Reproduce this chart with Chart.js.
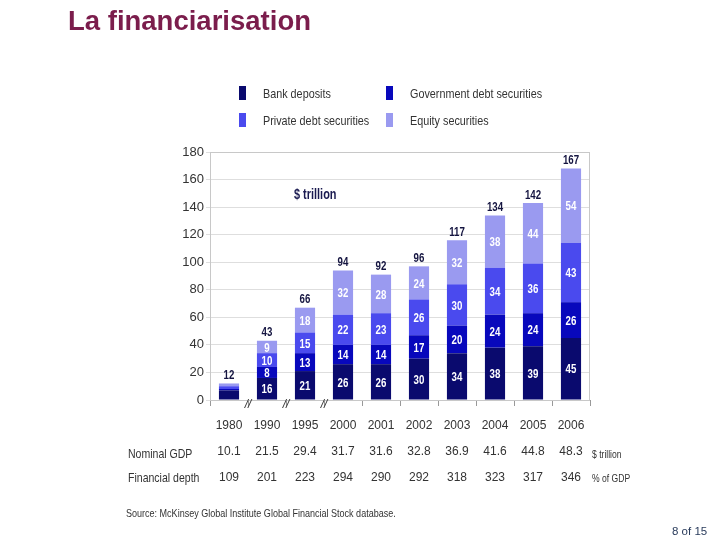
<!DOCTYPE html>
<html>
<head>
<meta charset="utf-8">
<title>La financiarisation</title>
<script src="https://cdn.jsdelivr.net/npm/chart.js@4.4.1/dist/chart.umd.min.js"></script>
<style>
  html, body { margin: 0; padding: 0; background: #fff; }
  #page { position: relative; width: 720px; height: 540px; overflow: hidden; }
  #myChart { position: absolute; left: 0; top: 0; }
  .txt { position: absolute; white-space: nowrap; font-family: "Liberation Sans", Arial, sans-serif; color: #333; line-height: 1; transform-origin: 0 0; }
  #title { left: 68px; top: 7px; font-weight: bold; font-size: 27.5px; color: #7b1d4c; }
  #unit { left: 294px; top: 187px; font-weight: bold; font-size: 14px; color: #1a1a50; transform: scaleX(0.78); }
  .key { position: absolute; width: 7px; height: 14px; }
  .leg { font-size: 13.5px; transform: scaleX(0.8); }
  .row { font-size: 13.5px; transform: scaleX(0.78); }
  .unitcol { font-size: 11px; transform: scaleX(0.78); }
  #source { left: 126px; top: 508px; font-size: 11px; transform: scaleX(0.82); }
  #pageNo { left: 672px; top: 526px; font-size: 11.5px; color: #2a3c5c; }
</style>
</head>
<body>
<div id="page">
  <canvas id="myChart" width="720" height="540"></canvas>
  <div class="txt" id="title">La financiarisation</div>
  <div class="txt" id="unit">$ trillion</div>
  <div class="txt row" style="left:128px; top:447px;">Nominal GDP</div>
  <div class="txt row" style="left:128px; top:471px;">Financial depth</div>
  <div class="txt unitcol" style="left:592px; top:449px;">$ trillion</div>
  <div class="txt unitcol" style="left:592px; top:473px;">% of GDP</div>
  <div class="txt" id="source">Source: McKinsey Global Institute Global Financial Stock database.</div>
  <div class="txt" id="pageNo">8 of 15</div>
</div>
<script>
'use strict';

// ********** DATA **********

let years = ['1980', '1990', '1995', '2000', '2001', '2002', '2003', '2004', '2005', '2006'];

let bankDeposits  = [7, 16, 21, 26, 26, 30, 34, 38, 39, 45];
let govDebt       = [1,  8, 13, 14, 14, 17, 20, 24, 24, 26];
let privateDebt   = [2, 10, 15, 22, 23, 26, 30, 34, 36, 43];
let equity        = [2,  9, 18, 32, 28, 24, 32, 38, 44, 54];

let totals        = [12, 43, 66, 94, 92, 96, 117, 134, 142, 167];

let nominalGdp    = ['10.1', '21.5', '29.4', '31.7', '31.6', '32.8', '36.9', '41.6', '44.8', '48.3'];
let financeDepth  = ['109', '201', '223', '294', '290', '292', '318', '323', '317', '346'];

let yTicks = [0, 20, 40, 60, 80, 100, 120, 140, 160, 180];

let seriesNames  = ['Bank deposits', 'Government debt securities', 'Private debt securities', 'Equity securities'];
let seriesColors = ['#0a0a6e', '#0808bc', '#4a4aee', '#9a9af0'];

// ********** HELPERS **********

const sans = '"Liberation Sans", Arial, sans-serif';

// legend built by hand in a 2 x 2 grid
function buildLegend() {
  let page = document.querySelector('#page');
  for (let i = 0; i < seriesNames.length; i++) {
    let col = i % 2;
    let row = Math.floor(i / 2);
    let left = 239 + col * 147;
    let top = 86 + row * 27;
    let key = document.createElement('div');
    key.className = 'key';
    key.style.left = left + 'px';
    key.style.top = top + 'px';
    key.style.background = seriesColors[i];
    page.appendChild(key);
    let label = document.createElement('div');
    label.className = 'txt leg';
    label.style.left = (left + 24) + 'px';
    label.style.top = (top + 1) + 'px';
    label.textContent = seriesNames[i];
    page.appendChild(label);
  }
}

// narrow text on the canvas
function narrowText(ctx, text, x, y, squeeze) {
  ctx.save();
  ctx.translate(x, y);
  ctx.scale(squeeze, 1);
  ctx.fillText(text, 0, 0);
  ctx.restore();
}

// white numbers inside segments, totals above, box and axis breaks
const barLabels = {
  id: 'barLabels',
  beforeDatasetsDraw(chart) {
    let a = chart.chartArea;
    let ctx = chart.ctx;
    ctx.save();
    ctx.strokeStyle = '#c8c8c8';
    ctx.lineWidth = 1;
    ctx.strokeRect(a.left + 0.5, a.top + 0.5, a.right - a.left - 1, a.bottom - a.top);
    ctx.restore();
  },
  afterDatasetsDraw(chart) {
    let ctx = chart.ctx;
    ctx.save();
    ctx.font = 'bold 13.5px ' + sans;
    ctx.textAlign = 'center';
    ctx.textBaseline = 'middle';
    chart.data.datasets.forEach((ds, i) => {
      let meta = chart.getDatasetMeta(i);
      meta.data.forEach((bar, j) => {
        if (Math.abs(bar.base - bar.y) < 11) return;
        ctx.fillStyle = '#ffffff';
        narrowText(ctx, ds.data[j], bar.x, (bar.y + bar.base) / 2 + 1, 0.72);
      });
    });
    let topMeta = chart.getDatasetMeta(chart.data.datasets.length - 1);
    topMeta.data.forEach((bar, j) => {
      ctx.fillStyle = '#141440';
      narrowText(ctx, totals[j], bar.x, bar.y - 8, 0.72);
    });
    // axis breaks between the early years
    let xs = chart.scales.x;
    ctx.font = 'italic 12px ' + sans;
    ctx.fillStyle = '#333';
    for (let j = 0; j < 3; j++) {
      let x = (xs.getPixelForValue(j) + xs.getPixelForValue(j + 1)) / 2;
      ctx.fillText('//', x, chart.chartArea.bottom + 5);
    }
    ctx.restore();
  }
};

// ********** CHART **********

function drawChart() {
  let data = [bankDeposits, govDebt, privateDebt, equity];
  let datasets = [];
  for (let i = 0; i < data.length; i++) {
    datasets.push({
      label: seriesNames[i],
      data: data[i],
      backgroundColor: seriesColors[i],
      borderWidth: 0,
      barPercentage: 0.53,
      categoryPercentage: 1
    });
  }

  let chartData = {
    type: 'bar',
    data: {
      labels: years.map((y, i) => [y, nominalGdp[i], financeDepth[i]]),
      datasets: datasets
    },
    options: {
      responsive: false,
      animation: false,
      layout: { padding: { left: 150, right: 130, top: 152, bottom: 0 } },
      plugins: { legend: { display: false }, tooltip: { enabled: false } },
      scales: {
        x: {
          stacked: true,
          offset: true,
          grid: { display: true, drawOnChartArea: false, tickLength: 6, color: '#999' },
          border: { color: '#999' },
          ticks: {
            color: '#333',
            padding: 7,
            maxRotation: 0,
            autoSkip: false,
            font: { family: sans, size: 12, lineHeight: 2.17 }
          },
          afterFit(scale) { scale.height = 140; }
        },
        y: {
          stacked: true,
          min: 0,
          max: 180,
          afterBuildTicks(scale) { scale.ticks = yTicks.map(v => ({ value: v })); },
          grid: { color: '#dedede', tickLength: 4 },
          border: { color: '#aaa' },
          ticks: {
            color: '#333',
            padding: 2,
            font: { family: sans, size: 13 }
          },
          afterFit(scale) { scale.width = 60; }
        }
      }
    },
    plugins: [barLabels]
  };

  new Chart(document.querySelector('#myChart'), chartData);
}

// ********** EXECUTABLE **********
buildLegend();
drawChart();
</script>
</body>
</html>
